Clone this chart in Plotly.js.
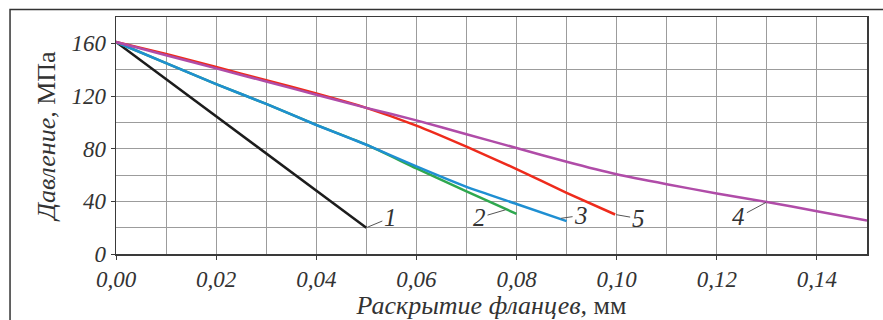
<!DOCTYPE html>
<html>
<head>
<meta charset="utf-8">
<script src="https://cdn.plot.ly/plotly-3.0.1.min.js"></script>
<style>
  html, body { margin: 0; padding: 0; background: #ffffff; }
  #chart { width: 883px; height: 320px; }
</style>
</head>
<body>
<div id="chart"></div>
<script>
// ---- Data ----
const curve1X = [0, 0.05];
const curve1Y = [161, 20];

const curve2X = [0, 0.01, 0.02, 0.03, 0.04, 0.05, 0.06, 0.07, 0.08];
const curve2Y = [161, 145, 129, 114, 98, 83, 65, 47.5, 30.5];

const curve3X = [0, 0.01, 0.02, 0.03, 0.04, 0.05, 0.06, 0.07, 0.08, 0.09];
const curve3Y = [161, 145, 129, 114, 98, 83, 66.5, 51, 38, 25];

const curve5X = [0, 0.01, 0.02, 0.03, 0.04, 0.05, 0.06, 0.07, 0.08, 0.09, 0.0997];
const curve5Y = [161, 152, 142, 132, 122, 111, 97.5, 81.5, 64.5, 46.5, 30];

const curve4X = [0, 0.01, 0.02, 0.03, 0.04, 0.05, 0.06, 0.07, 0.08, 0.09, 0.10, 0.11, 0.12, 0.13, 0.14, 0.15];
const curve4Y = [161, 151, 141, 131, 121, 111, 101.5, 91, 80.5, 70, 60.5, 53, 46, 39.5, 32.5, 25.5];

const curveNames = ['1', '2', '3', '4', '5'];
const xTitle = '<i>Раскрытие фланцев,</i> мм';
const yTitle = '<i>Давление,</i> МПа';

// ---- Styles ----
const serif = 'Liberation Serif, Times New Roman, serif';
const textColor = '#333333';
const gridColor = '#9c9c9c';

function line(x, y, color, name) {
  return { x: x, y: y, type: 'scatter', mode: 'lines', name: name,
           line: { color: color, width: 2.5, shape: 'spline', smoothing: 0.5 },
           hoverinfo: 'x+y' };
}

const traces = [
  line(curve1X, curve1Y, '#1c1c1c', curveNames[0]),
  line(curve2X, curve2Y, '#2fa84f', curveNames[1]),
  line(curve3X, curve3Y, '#1f8fd2', curveNames[2]),
  line(curve5X, curve5Y, '#ee2b1c', curveNames[4]),
  line(curve4X, curve4Y, '#b04ca8', curveNames[3])
];

function label(text, x, y, ax, ay) {
  return { text: text, x: x, y: y, xref: 'x', yref: 'y', ax: ax, ay: ay,
           showarrow: true, arrowhead: 0, arrowwidth: 1, arrowcolor: '#555555',
           standoff: 1,
           font: { family: serif, size: 25, color: textColor, style: 'italic' } };
}

const last = a => a[a.length - 1];

const annotations = [
  label(curveNames[0], last(curve1X), last(curve1Y), 24, -10),
  label(curveNames[1], 0.078, 33.8, -27, 8),
  label(curveNames[2], 0.0887, 27, 21, -3),
  label(curveNames[4], last(curve5X), last(curve5Y), 23, 4),
  label(curveNames[3], curve4X[13], curve4Y[13], -28, 15)
];

const axisCommon = {
  showline: true, mirror: true, linecolor: '#3a3a3a', linewidth: 1.5,
  showgrid: true, gridcolor: gridColor, gridwidth: 1,
  zeroline: false, ticks: 'outside', ticklen: 4, tickcolor: '#3a3a3a',
  tickfont: { family: serif, size: 23, color: textColor, style: 'italic' }
};

const layout = {
  width: 883, height: 320,
  margin: { l: 116, r: 16, t: 17, b: 66 },
  paper_bgcolor: '#ffffff', plot_bgcolor: '#ffffff',
  separators: ', ',
  showlegend: false,
  xaxis: Object.assign({}, axisCommon, {
    range: [0, 0.15], dtick: 0.02, tick0: 0, tickformat: '.2f',
    minor: { dtick: 0.01, showgrid: true, gridcolor: gridColor, gridwidth: 1, ticks: '' },
    title: { text: xTitle, standoff: 1,
             font: { family: serif, size: 26, color: textColor } }
  }),
  yaxis: Object.assign({}, axisCommon, {
    range: [0, 180], dtick: 40, tick0: 0,
    minor: { dtick: 20, showgrid: true, gridcolor: gridColor, gridwidth: 1, ticks: '' },
    title: { text: yTitle, standoff: 8,
             font: { family: serif, size: 26, color: textColor } }
  }),
  annotations: annotations,
  shapes: [
    { type: 'rect', xref: 'paper', yref: 'paper',
      x0: -0.1411, x1: 1.05, y0: -0.40, y1: 1.0316,
      line: { color: '#333333', width: 1.5 }, fillcolor: 'rgba(0,0,0,0)', layer: 'below' }
  ]
};

Plotly.newPlot('chart', traces, layout, { displayModeBar: false, staticPlot: true });
</script>
</body>
</html>
